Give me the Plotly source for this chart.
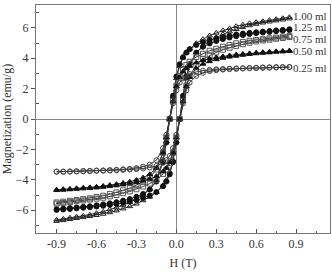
import plotly.graph_objects as go

# Applied field grid (T)
H = [-0.9, -0.85, -0.8, -0.75, -0.7, -0.65, -0.6, -0.55, -0.5, -0.45, -0.4, -0.35,
     -0.3, -0.25, -0.2, -0.15, -0.1, -0.075, -0.05, -0.025, 0.0, 0.025, 0.05, 0.075,
     0.1, 0.15, 0.2, 0.25, 0.3, 0.35, 0.4, 0.45, 0.5, 0.55, 0.6, 0.65, 0.7, 0.75, 0.8, 0.85]

series_names = ["1.00 ml", "1.25 ml", "0.75 ml", "0.50 ml", "0.25 ml"]

# descending (upper) branches, emu/g
up_100 = [-6.63, -6.57, -6.50, -6.43, -6.37, -6.30, -6.20, -6.10, -5.96, -5.83, -5.66, -5.49, -5.26, -4.99, -4.62, -4.02, -2.68, -1.47, 0.0, 1.47, 2.68, 3.48, 4.02, 4.36, 4.62, 4.99, 5.26, 5.49, 5.66, 5.83, 5.96, 6.10, 6.20, 6.30, 6.37, 6.43, 6.50, 6.57, 6.63, 6.70]
up_125 = [-5.93, -5.90, -5.86, -5.82, -5.78, -5.74, -5.68, -5.62, -5.55, -5.47, -5.37, -5.27, -5.12, -4.93, -4.64, -4.12, -2.84, -1.55, 0.0, 1.53, 2.80, 3.60, 4.07, 4.37, 4.59, 4.87, 5.06, 5.21, 5.31, 5.40, 5.48, 5.56, 5.62, 5.67, 5.71, 5.75, 5.79, 5.83, 5.86, 5.90]
up_075 = [-5.49, -5.44, -5.38, -5.33, -5.27, -5.22, -5.13, -5.05, -4.94, -4.83, -4.69, -4.55, -4.36, -4.13, -3.83, -3.33, -2.22, -1.22, 0.0, 1.20, 2.19, 2.84, 3.28, 3.56, 3.77, 4.08, 4.29, 4.49, 4.62, 4.76, 4.87, 4.98, 5.06, 5.14, 5.20, 5.25, 5.31, 5.36, 5.42, 5.47]
up_050 = [-4.65, -4.62, -4.60, -4.56, -4.53, -4.50, -4.46, -4.41, -4.35, -4.29, -4.21, -4.13, -4.02, -3.86, -3.64, -3.23, -2.22, -1.22, 0.0, 1.17, 2.14, 2.75, 3.11, 3.33, 3.50, 3.71, 3.86, 3.97, 4.05, 4.12, 4.18, 4.24, 4.28, 4.32, 4.36, 4.39, 4.42, 4.45, 4.47, 4.50]
up_025 = [-3.46, -3.46, -3.45, -3.44, -3.42, -3.41, -3.39, -3.38, -3.36, -3.34, -3.31, -3.28, -3.23, -3.14, -3.00, -2.71, -1.91, -1.04, 0.0, 1.03, 1.88, 2.39, 2.67, 2.84, 2.96, 3.10, 3.18, 3.23, 3.27, 3.29, 3.31, 3.33, 3.34, 3.36, 3.37, 3.39, 3.40, 3.41, 3.41, 3.42]

# ascending (lower) branches, emu/g
lo_100 = [-6.72, -6.67, -6.60, -6.53, -6.47, -6.40, -6.33, -6.25, -6.15, -6.03, -5.90, -5.75, -5.58, -5.36, -5.13, -4.82, -4.36, -4.02, -3.48, -2.68, -1.47, 0.0, 1.47, 2.68, 3.48, 4.36, 4.82, 5.13, 5.36, 5.58, 5.75, 5.90, 6.03, 6.15, 6.25, 6.33, 6.40, 6.47, 6.53, 6.60]
lo_125 = [-5.98, -5.95, -5.92, -5.88, -5.84, -5.80, -5.76, -5.71, -5.65, -5.59, -5.51, -5.42, -5.33, -5.19, -5.03, -4.81, -4.42, -4.12, -3.64, -2.84, -1.55, 0.0, 1.53, 2.80, 3.60, 4.37, 4.75, 4.97, 5.13, 5.26, 5.36, 5.45, 5.52, 5.59, 5.65, 5.69, 5.73, 5.78, 5.81, 5.85]
lo_075 = [-5.57, -5.52, -5.47, -5.41, -5.36, -5.30, -5.24, -5.18, -5.09, -5.00, -4.88, -4.76, -4.62, -4.44, -4.25, -4.00, -3.61, -3.33, -2.89, -2.22, -1.22, 0.0, 1.20, 2.19, 2.84, 3.56, 3.94, 4.18, 4.38, 4.56, 4.69, 4.81, 4.92, 5.02, 5.10, 5.17, 5.22, 5.28, 5.33, 5.39]
lo_050 = [-4.69, -4.67, -4.64, -4.61, -4.58, -4.55, -4.52, -4.48, -4.43, -4.38, -4.32, -4.25, -4.17, -4.07, -3.95, -3.77, -3.46, -3.23, -2.85, -2.22, -1.22, 0.0, 1.17, 2.14, 2.75, 3.33, 3.62, 3.79, 3.92, 4.01, 4.09, 4.15, 4.21, 4.26, 4.31, 4.34, 4.37, 4.41, 4.43, 4.46]
lo_025 = [-3.47, -3.47, -3.46, -3.45, -3.44, -3.43, -3.41, -3.40, -3.39, -3.37, -3.35, -3.32, -3.30, -3.26, -3.19, -3.09, -2.88, -2.71, -2.43, -1.91, -1.04, 0.0, 1.03, 1.88, 2.39, 2.84, 3.04, 3.15, 3.21, 3.25, 3.28, 3.30, 3.32, 3.34, 3.35, 3.37, 3.38, 3.39, 3.40, 3.41]

label_y = [6.8, 6.03, 5.27, 4.45, 3.38]

uppers = [up_100, up_125, up_075, up_050, up_025]
lowers = [lo_100, lo_125, lo_075, lo_050, lo_025]
symbols = ["triangle-up-open", "circle", "square-open", "triangle-up", "circle-open"]
mcolors = ["#222222", "#111111", "#555555", "#111111", "#444444"]

FONT = "Liberation Serif"
fig = go.Figure()
for name, up, lo, sym, mc in zip(series_names, uppers, lowers, symbols, mcolors):
    xs = H[::-1] + H
    ys = up[::-1] + lo
    fig.add_trace(go.Scatter(
        x=xs, y=ys, mode="lines+markers", name=name,
        line=dict(color="#333333", width=1),
        marker=dict(symbol=sym, size=5, color=mc, line=dict(color=mc, width=1)),
        showlegend=False))

for name, ly in zip(series_names, label_y):
    fig.add_annotation(x=0.875, y=ly, text=name, showarrow=False, xanchor="left",
                       yanchor="middle", xshift=-2,
                       font=dict(family=FONT, size=11, color="#333333"))

fig.update_layout(
    width=332, height=274,
    margin=dict(l=36, r=2, t=5, b=41),
    plot_bgcolor="white", paper_bgcolor="white",
    font=dict(family=FONT, size=12, color="#333333"),
)
fig.update_xaxes(
    range=[-1.055, 1.155], tickvals=[-0.9, -0.6, -0.3, 0.0, 0.3, 0.6, 0.9],
    ticktext=["-0.9", "-0.6", "-0.3", "0.0", "0.3", "0.6", "0.9"],
    ticks="inside", ticklen=4, tickcolor="#555555",
    minor=dict(tickvals=[-0.75, -0.45, -0.15, 0.15, 0.45, 0.75, 1.05], ticks="inside", ticklen=2, tickcolor="#555555"),
    showline=True, mirror=True, linecolor="#777777", linewidth=1,
    showgrid=False, zeroline=True, zerolinecolor="#888888", zerolinewidth=1,
    title=dict(text="H (T)", standoff=8, font=dict(family=FONT, size=12)),
)
fig.update_yaxes(
    range=[-7.5, 7.5], tickvals=[-6, -4, -2, 0, 2, 4, 6],
    ticks="outside", ticklen=4, tickcolor="#555555",
    minor=dict(tickvals=[-7, -5, -3, -1, 1, 3, 5, 7], ticks="inside", ticklen=3, tickcolor="#555555"),
    showline=True, mirror=True, linecolor="#777777", linewidth=1,
    showgrid=False, zeroline=True, zerolinecolor="#888888", zerolinewidth=1,
    title=dict(text="Magnetization (emu/g)", standoff=2, font=dict(family=FONT, size=12)),
)

fig.write_html("out.html")
